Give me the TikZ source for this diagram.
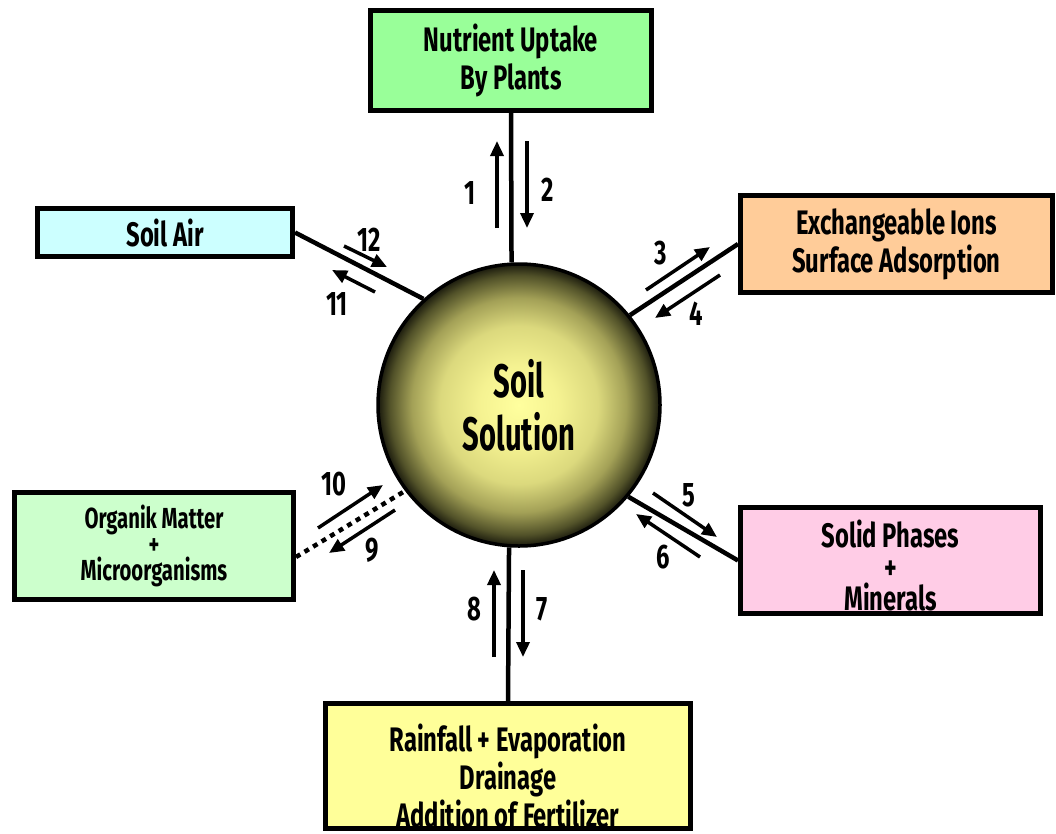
\documentclass[tikz,border=0pt]{standalone}
\usepackage{fontspec}
\setmainfont{Fira Sans}[FakeStretch=0.7]
\newfontfamily\ballfont{Fira Sans}[FakeStretch=0.62]
\usetikzlibrary{arrows.meta}
\definecolor{nutc}{HTML}{99FF99}
\definecolor{airc}{HTML}{CCFFFF}
\definecolor{exchc}{HTML}{FFCC99}
\definecolor{solidc}{HTML}{FFCCE6}
\definecolor{orgc}{HTML}{CCFFCC}
\definecolor{rainc}{HTML}{FFFF99}
\pgfdeclareradialshading{ballshade}{\pgfpoint{0bp}{0bp}}{%
  rgb(0bp)=(1.00,1.00,0.62);
  rgb(7bp)=(0.96,0.95,0.57);
  rgb(14bp)=(0.86,0.85,0.49);
  rgb(19bp)=(0.64,0.63,0.34);
  rgb(23bp)=(0.32,0.32,0.16);
  rgb(25bp)=(0.10,0.10,0.05);
  rgb(50bp)=(0.10,0.10,0.05)}
\begin{document}
\begin{tikzpicture}[x=1pt,y=-1pt,
  box/.style={draw=black, line width=5pt, inner sep=0pt, align=center,
    font=\bfseries\fontsize{34}{38}\selectfont},
  txt/.style={inner sep=0pt, align=center, font=\bfseries\fontsize{34}{38}\selectfont},
  link/.style={line width=4.5pt},
  flow/.style={line width=3.5pt, -{Triangle[length=15pt,width=13pt]}},
  num/.style={inner sep=0pt, font=\bfseries\fontsize{34}{34}\selectfont}]
\useasboundingbox (0,0) rectangle (1056,833);

% centre
\node[circle, draw=black, line width=3.5pt, minimum size=282pt, inner sep=0pt,
  shading=ballshade, align=center,
  font=\ballfont\bfseries\fontsize{47}{53}\selectfont] (sol) at (519,405) {Soil\\Solution};

% boxes
\node[box, fill=nutc, minimum width=281pt, minimum height=100pt] (nut) at (511,60.5) {Nutrient Uptake\\By Plants};
\node[box, fill=airc, minimum width=255pt, minimum height=48pt] (air) at (165,232.5) {Soil Air};
\node[box, fill=exchc, minimum width=312pt, minimum height=97pt] (exch) at (896.5,244) {Exchangeable Ions\\Surface Adsorption};
\node[box, fill=solidc, minimum width=300pt, minimum height=106pt] (solid) at (890.5,560.5) {};
\node[box, fill=orgc, minimum width=279pt, minimum height=107pt,
  font=\bfseries\fontsize{29}{26}\selectfont] (org) at (154,546) {Organik Matter\\+\\Microorganisms};
\node[box, fill=rainc, minimum width=365pt, minimum height=125pt] (rain) at (508,766) {};

\begin{scope}
\clip ([shift={(5pt,-5pt)}]solid.north west) rectangle ([shift={(-5pt,5pt)}]solid.south east);
\node[txt, font=\bfseries\fontsize{34}{31.5}\selectfont] (solidtxt) at ([yshift=-5pt]solid.center) {Solid Phases\\+\\Minerals};
\end{scope}
\begin{scope}
\clip ([shift={(5pt,-5pt)}]rain.north west) rectangle ([shift={(-5pt,5pt)}]rain.south east);
\node[txt] (raintxt) at ([yshift=-10pt]rain.center) {Rainfall + Evaporation\\Drainage\\Addition of Fertilizer};
\end{scope}

% links
\draw[link] (nut.south) -- (sol.93.6);
\draw[link] (air.east) -- (sol.132.4);
\draw[link] (exch.west) -- (sol.39.6);
\draw[link] (solid.west) -- (sol.-40.2);
\draw[link, dash pattern=on 5pt off 5pt] ([yshift=-11pt]org.east) -- (sol.217);
\draw[link] (rain.north) -- (sol.-94.4);

% flow arrows
\draw[flow] (497,228) -- (497,141);
\draw[flow] (527,141) -- (527,228);
\draw[flow] (344,246) -- (387,267);
\draw[flow] (375,292) -- (332,270);
\draw[flow] (646,290) -- (710,247);
\draw[flow] (720,275) -- (655,318);
\draw[flow] (318,528) -- (383,485);
\draw[flow] (395,510) -- (329,553);
\draw[flow] (653,493) -- (717,537);
\draw[flow] (700,557) -- (636,514);
\draw[flow] (494,657) -- (494,570);
\draw[flow] (523,570) -- (523,657);

% numbers
\node[num] (n1) at (470,193) {1};
\node[num] (n2) at (548,190) {2};
\node[num] (n3) at (661,253) {3};
\node[num] (n4) at (696,314) {4};
\node[num] (n5) at (689,495) {5};
\node[num] (n6) at (663,557) {6};
\node[num] (n7) at (542,609) {7};
\node[num] (n8) at (474,609) {8};
\node[num] (n9) at (372,550) {9};
\node[num] (n10) at (334,484) {10};
\node[num] (n11) at (337,304) {11};
\node[num] (n12) at (369,240) {12};
\end{tikzpicture}
\end{document}
